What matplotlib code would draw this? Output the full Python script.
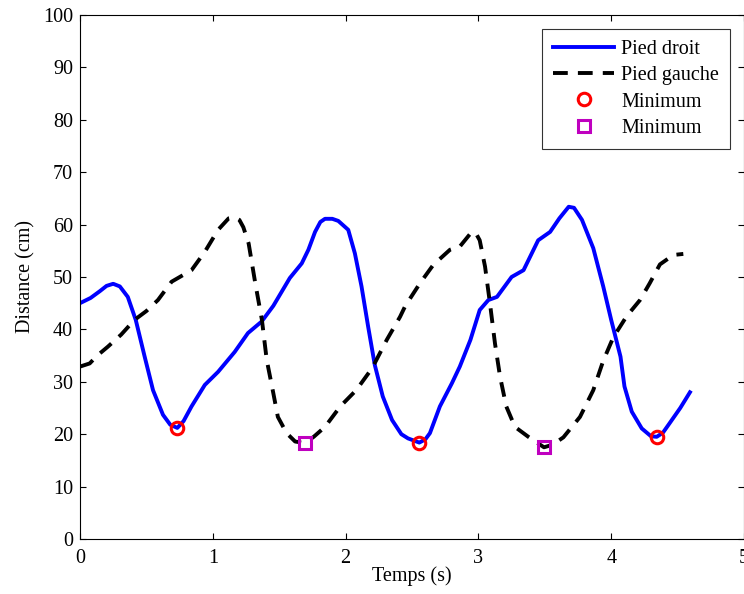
import matplotlib
matplotlib.use('Agg')
import matplotlib.pyplot as plt

plt.rcParams['font.family'] = ['Liberation Serif', 'DejaVu Serif']

# Pied droit (right foot)
droit_t = [0.0, 0.08, 0.15, 0.2, 0.25, 0.3, 0.36, 0.42, 0.487, 0.55, 0.625, 0.68, 0.733,
           0.78, 0.84, 0.94, 1.04, 1.165, 1.265, 1.368, 1.456, 1.58, 1.67, 1.72, 1.77, 1.81,
           1.845, 1.9, 1.945, 2.02, 2.07, 2.12, 2.17, 2.22, 2.28, 2.35, 2.42, 2.47, 2.555,
           2.6, 2.635, 2.71, 2.8, 2.86, 2.94, 3.01, 3.075, 3.14, 3.25, 3.34, 3.45, 3.54,
           3.61, 3.68, 3.72, 3.78, 3.865, 3.94, 4.0, 4.07, 4.10, 4.155, 4.23, 4.3, 4.343,
           4.39, 4.44, 4.52, 4.593]
droit_d = [45.0, 46.0, 47.3, 48.3, 48.7, 48.2, 46.2, 41.8, 34.8, 28.4, 23.7, 21.8, 21.2,
           22.5, 25.3, 29.4, 31.9, 35.7, 39.3, 41.5, 44.5, 49.8, 52.6, 55.2, 58.6, 60.5,
           61.1, 61.1, 60.7, 59.0, 54.5, 48.2, 40.5, 33.2, 27.2, 22.7, 20.0, 19.2, 18.4,
           19.0, 20.2, 25.3, 29.7, 32.9, 38.0, 43.7, 45.6, 46.2, 50.0, 51.3, 57.0, 58.6,
           61.2, 63.4, 63.2, 60.9, 55.5, 48.2, 41.8, 34.8, 29.1, 24.3, 21.1, 19.6, 19.5,
           20.3, 22.1, 25.0, 28.0]

# Pied gauche (left foot)
gauche_t = [0.0, 0.073, 0.13, 0.21, 0.31, 0.41, 0.5, 0.587, 0.69, 0.84, 0.94, 1.04, 1.12,
            1.165, 1.2, 1.23, 1.27, 1.32, 1.37, 1.406, 1.456, 1.49, 1.556, 1.62, 1.694,
            1.76, 1.845, 1.96, 2.08, 2.2, 2.31, 2.41, 2.45, 2.56, 2.66, 2.786, 2.86, 2.95,
            2.98, 3.01, 3.05, 3.087, 3.125, 3.163, 3.21, 3.275, 3.376, 3.494, 3.56, 3.64,
            3.765, 3.865, 3.94, 4.016, 4.116, 4.217, 4.29, 4.367, 4.468, 4.543]
gauche_d = [32.9, 33.5, 35.0, 36.7, 39.0, 41.8, 43.5, 45.6, 49.1, 51.3, 54.8, 59.0, 61.2,
            61.4, 60.9, 59.5, 56.4, 48.8, 41.8, 34.2, 27.8, 23.3, 20.2, 18.6, 18.3,
            19.5, 21.4, 25.3, 28.4, 32.6, 38.0, 42.4, 44.5, 48.8, 52.3, 55.2, 55.8, 58.6,
            58.4, 57.0, 52.0, 45.0, 37.3, 31.0, 25.3, 21.4, 19.5, 17.5, 18.0, 19.4,
            23.3, 28.4, 34.0, 38.5, 42.5, 45.6, 48.8, 52.4, 54.2, 54.4]

# minima
min_droit_t = [0.733, 2.555, 4.343]
min_droit_d = [21.2, 18.4, 19.5]
min_gauche_t = [1.694, 3.494]
min_gauche_d = [18.3, 17.5]

fig = plt.figure(figsize=(7.44, 5.94), dpi=100)
ax = fig.add_axes([0.1075, 0.0926, 0.8925, 0.8822])

ax.plot(droit_t, droit_d, color='#0000ff', lw=2.8, label='Pied droit')
ax.plot(gauche_t, gauche_d, color='black', lw=2.8, dashes=(3.8, 2.6), label='Pied gauche')
ax.plot(min_droit_t, min_droit_d, 'o', ms=9, mfc='none', mec='red', mew=2.2, label='Minimum')
ax.plot(min_gauche_t, min_gauche_d, 's', ms=9, mfc='none', mec='#bf00bf', mew=2.2, label='Minimum')

ax.set_xlim(0, 5)
ax.set_ylim(0, 100)
ax.set_xticks([0, 1, 2, 3, 4, 5])
ax.set_yticks(range(0, 101, 10))
ax.tick_params(direction='in', top=True, right=True, length=4, width=0.8, labelsize=14.5)
ax.tick_params(axis='x', pad=7.5)
ax.tick_params(axis='y', pad=5)
for s in ax.spines.values():
    s.set_linewidth(0.8)

ax.set_xlabel('Temps (s)', fontsize=14.5, labelpad=-1.5)
ax.set_ylabel('Distance (cm)', fontsize=14.5, labelpad=5)

leg = ax.legend(loc='upper right', fontsize=14.5, frameon=True, fancybox=False,
                edgecolor='black', handlelength=3.0, borderaxespad=0.7,
                labelspacing=0.35, handletextpad=0.35, borderpad=0.55)
leg.get_frame().set_linewidth(0.8)

fig.savefig('out.png', dpi=100)
